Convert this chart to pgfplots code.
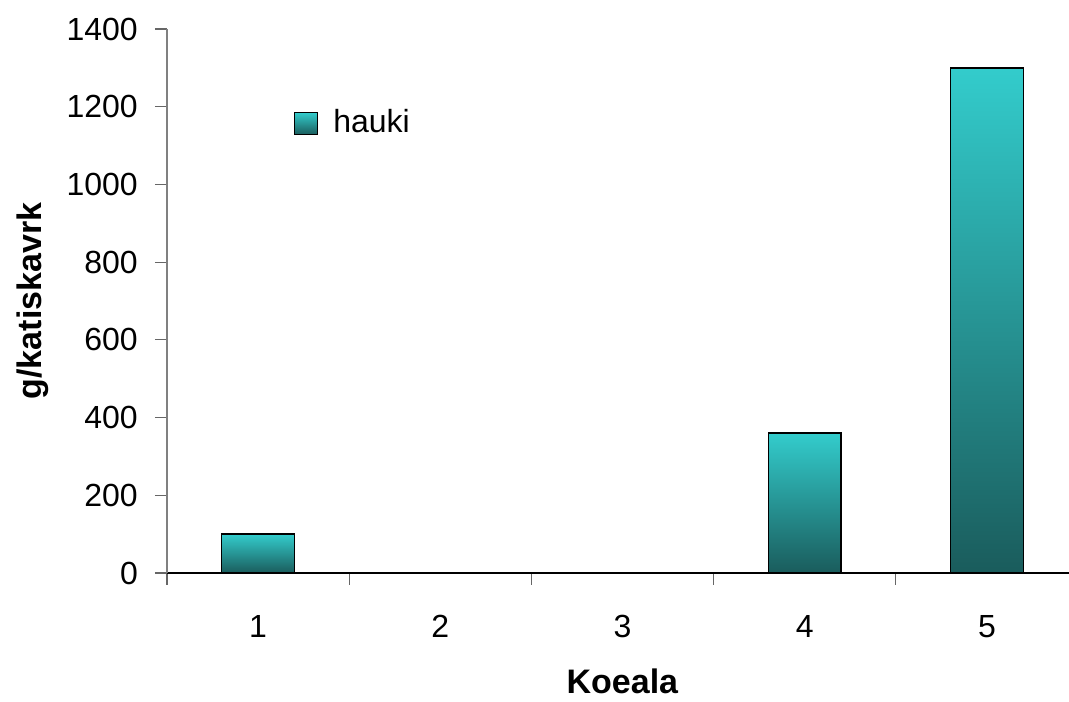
\documentclass[border=0pt]{standalone}
\usepackage{pgfplots}
\pgfplotsset{compat=1.18}
\usepackage{fontspec}
\setmainfont{Liberation Sans}
\definecolor{tealtop}{HTML}{33CCCC}
\definecolor{tealbot}{HTML}{1A5C5C}
\pgfplotstableread{
x y
1 100
2 0
3 0
4 360
5 1300
}\haukidata
\tikzset{haukibar/.style={draw=black, line width=1.5bp,
    top color=tealtop, bottom color=tealbot}}
\begin{document}
\fontsize{32bp}{38bp}\selectfont
\begin{tikzpicture}
\path[use as bounding box] (0,0) rectangle (1069bp,702bp);
\begin{axis}[
  at={(167bp,129bp)}, anchor=south west,
  scale only axis,
  width=911bp, height=544bp,
  xmin=0.5, xmax=5.5,
  ymin=0, ymax=1400,
  axis x line=bottom, axis y line=left,
  axis line style={-},
  x axis line style={black, line width=1.2bp},
  y axis line style={gray, line width=1.2bp},
  xtick={1,2,3,4,5},
  xticklabels={1,2,3,4,5},
  minor xtick={0.5,1.5,2.5,3.5,4.5,5.5},
  ytick={0,200,400,600,800,1000,1200,1400},
  tick align=outside,
  major tick length=12bp,
  minor tick length=12bp,
  x tick style={draw=none},
  minor x tick style={draw=gray!80!black, line width=1.2bp},
  y tick style={draw=gray!80!black, line width=1.2bp},
  /pgf/number format/assume math mode=true,
  /pgf/number format/1000 sep={},
  tick label style={font=\fontsize{32bp}{38bp}\selectfont},
  xticklabel style={anchor=north, inner sep=0pt, yshift=-30bp},
  yticklabel style={anchor=east, inner sep=0pt, xshift=-17bp},
  xlabel={\textbf{Koeala}},
  ylabel={\textbf{g/katiskavrk}},
  label style={font=\fontsize{34bp}{40bp}\selectfont, inner sep=0pt},
  xlabel style={at={(axis description cs:0.5,-0.221)}, anchor=base},
  ylabel style={at={(axis description cs:-0.1476,0.5)}, anchor=center},
  ybar, bar width=0.4, bar shift=0pt,
  legend style={at={(rel axis cs:0.139,0.856)}, anchor=north west,
    draw=none, fill=none, inner sep=0pt,
    font=\fontsize{32bp}{38bp}\selectfont,
    /tikz/every odd column/.append style={column sep=13bp}},
  legend image code/.code={
    \draw[haukibar] (0bp,-11bp) rectangle (23bp,11bp);
  },
]
% one plot per site so that each bar carries its own gradient
\addplot[haukibar] table[x=x, y=y, restrict expr to domain={\thisrow{x}}{1:1}] {\haukidata};
\addlegendentry{hauki}
\addplot[forget plot, draw=none, fill=none] table[x=x, y=y, restrict expr to domain={\thisrow{x}}{2:2}] {\haukidata};
\addplot[forget plot, draw=none, fill=none] table[x=x, y=y, restrict expr to domain={\thisrow{x}}{3:3}] {\haukidata};
\addplot[haukibar, forget plot] table[x=x, y=y, restrict expr to domain={\thisrow{x}}{4:4}] {\haukidata};
\addplot[haukibar, forget plot] table[x=x, y=y, restrict expr to domain={\thisrow{x}}{5:5}] {\haukidata};
\end{axis}
\end{tikzpicture}
\end{document}
